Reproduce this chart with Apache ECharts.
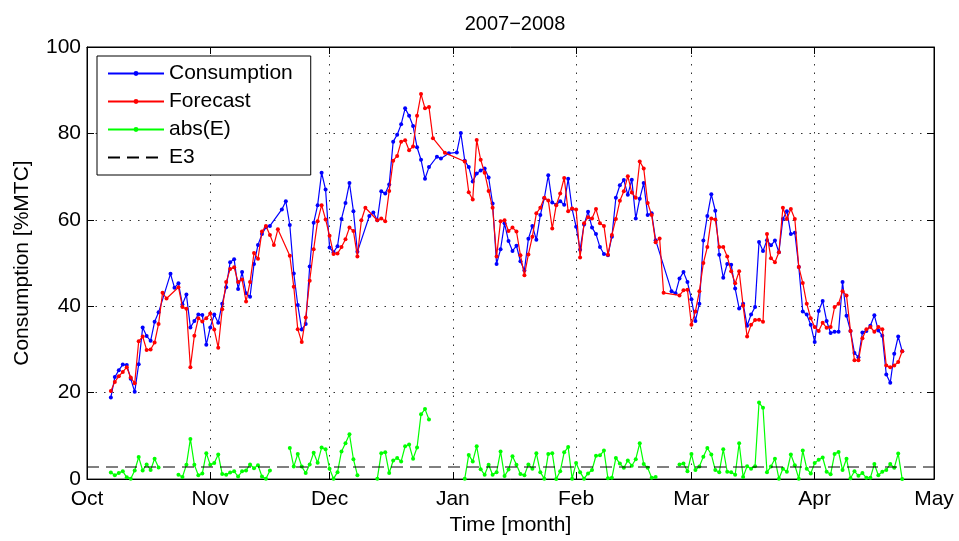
<!DOCTYPE html>
<html>
<head>
<meta charset="utf-8">
<script src="https://cdn.jsdelivr.net/npm/echarts@6/dist/echarts.min.js"></script>
<style>
html,body{margin:0;padding:0;background:#fff;}
#chart{width:959px;height:541px;}
</style>
</head>
<body>
<div id="chart"></div>
<script>
// x positions are days counted from 1 Oct 2007 (day 0)
const monthStarts = [0, 31, 61, 92, 123, 152, 183, 213];
const monthLabels = ['Oct', 'Nov', 'Dec', 'Jan', 'Feb', 'Mar', 'Apr', 'May'];
const firstDay = 6; // first sample: 7 Oct 2007
const consumption = [
  18.9, 23.6, 25.2, 26.5, 26.4, 23.2, 20.2, 26.6, 35.1, 33.1,
  32.0, 36.4, 38.6, null, null, 47.5, 44.3, 45.3, 40.4, 42.7,
  35.1, 36.6, 38.1, 38.0, 31.1, 35.1, 38.1, 36.2, 40.6, 44.4,
  50.2, 50.9, 44.0, 47.9, 43.0, 42.2, 49.8, 54.2, 56.7, 58.3,
  58.6, null, null, 62.4, 64.3, 58.8, 47.6, 40.3, 34.6, 35.9,
  49.2, 59.3, 63.4, 70.9, 67.0, 53.6, 52.5, 53.9, 60.2, 63.9,
  68.5, 62.0, 52.6, null, null, 60.9, 61.7, 59.9, 66.6, 66.1,
  68.2, 78.1, 79.7, 82.1, 85.8, 84.1, 81.7, 76.8, 73.9, 69.5,
  72.2, null, 74.6, 74.2, null, 75.4, null, 75.6, 80.1, 73.7,
  72.2, 68.9, 70.7, 71.4, 71.9, 69.8, 63.8, 49.8, 53.2, 59.2,
  55.1, 52.8, 54.0, 50.4, 48.3, 55.6, 58.6, 55.4, 61.1, 65.0,
  70.3, 64.0, 63.5, 64.3, 63.5, 69.5, 62.5, 58.4, 53.1, 58.9,
  61.9, 58.2, 56.7, 53.7, 52.1, 51.8, 56.1, 65.1, 68.0, 69.2,
  65.8, 69.3, 60.3, 64.9, 68.5, 61.1, 61.5, 55.3, null, null,
  null, 43.5, 43.0, 46.4, 47.9, 45.6, 41.6, 36.6, 40.6, 55.2,
  60.9, 65.9, 62.1, 51.9, 46.6, 49.8, 49.6, 44.1, 39.5, 40.6,
  35.5, 38.1, 39.8, 54.9, 52.8, 55.3, 54.1, 55.2, 52.5, 60.2,
  62.0, 56.7, 57.0, 49.1, 38.8, 38.1, 35.7, 31.7, 38.9, 41.2,
  36.6, 33.8, 34.1, 34.1, 45.6, 37.8, 34.3, 29.2, 28.2, 33.9,
  34.3, 35.5, 37.9, 34.4, 33.2, 24.2, 22.3, 29.0, 33.0, 29.6
];
const forecast = [
  20.4, 22.5, 23.8, 24.8, 25.9, 23.5, 22.2, 31.9, 33.0, 29.9,
  30.0, 31.6, 35.9, 43.1, 41.8, null, null, 44.4, 39.8, 39.4,
  25.9, 33.2, 37.2, 36.5, 37.2, 38.3, 34.6, 30.4, 39.3, 45.6,
  48.6, 49.0, 45.6, 46.2, 41.1, 45.6, 52.3, 51.0, 57.3, 58.6,
  56.5, 54.2, 57.8, null, null, 51.7, 44.5, 34.7, 31.7, 37.4,
  45.9, 53.2, 59.7, 63.4, 60.1, 56.3, 52.1, 52.2, 53.7, 55.5,
  58.2, 57.4, 51.5, 59.9, 62.8, null, null, 59.9, 60.3, 59.7,
  66.7, 73.7, 74.8, 78.1, 78.4, 76.1, 77.0, 84.1, 89.1, 85.8,
  86.1, 78.9, null, null, 75.5, null, null, null, null, 73.5,
  66.4, 64.7, 78.5, 73.9, 70.9, 66.7, 62.8, 51.5, 59.7, 59.9,
  57.4, 58.2, 57.3, 51.8, 47.2, 52.0, 56.1, 61.5, 62.8, 65.1,
  64.5, 58.0, 63.4, 66.1, 69.7, 62.0, 62.6, 62.4, 51.3, 59.2,
  60.6, 60.3, 62.5, 59.2, 58.6, 51.9, 56.5, 60.2, 64.4, 66.6,
  70.1, 66.3, 65.1, 73.5, 71.9, 63.9, 61.1, 54.8, 55.7, 43.1,
  null, null, null, 42.5, 43.7, 43.8, 35.7, 38.8, 43.5, 50.0,
  53.7, 60.3, 60.1, 53.7, 53.7, 51.5, 48.1, 45.3, 48.1, 40.1,
  33.0, 35.7, 36.8, 36.9, 36.4, 56.7, 51.1, 50.2, 52.5, 62.8,
  60.2, 62.5, 60.2, 49.1, 45.4, 40.6, 37.2, 35.2, 34.3, 36.2,
  35.0, 35.2, 39.8, 40.6, 43.5, 42.5, 34.3, 27.5, 27.5, 32.6,
  34.7, 35.2, 34.1, 35.2, 34.7, 26.3, 25.9, 26.3, 27.1, 29.6
];
const absError = [
  1.5, 0.9, 1.4, 1.8, 0.4, 0.1, 2.0, 5.1, 2.0, 3.4,
  2.1, 4.7, 2.7, null, null, null, null, 1.0, 0.5, 3.3,
  9.3, 3.3, 0.9, 1.3, 6.0, 3.3, 3.7, 5.7, 1.2, 1.0,
  1.5, 1.8, 0.6, 1.8, 2.0, 3.4, 2.5, 3.2, 0.6, 0.1,
  2.0, null, null, null, null, 7.2, 2.9, 5.8, 2.9, 1.4,
  3.4, 6.1, 3.8, 7.3, 6.9, 2.4, 0.1, 1.6, 6.4, 8.3,
  10.4, 4.6, 0.9, null, null, null, null, 0.1, 6.0, 6.2,
  1.4, 4.3, 4.9, 4.1, 7.6, 8.0, 4.7, 7.3, 15.0, 16.2,
  13.8, null, null, null, null, null, null, null, null, 0.1,
  5.6, 4.1, 7.6, 2.3, 1.0, 3.3, 1.0, 1.6, 6.4, 0.7,
  2.2, 5.3, 3.3, 1.2, 0.9, 3.4, 2.4, 6.0, 1.6, 0.1,
  5.8, 6.0, 0.0, 1.8, 6.2, 7.4, 0.1, 3.7, 1.6, 0.1,
  1.3, 2.1, 5.4, 5.5, 6.6, 0.2, 0.3, 4.9, 3.6, 2.6,
  4.3, 3.1, 4.6, 8.3, 3.5, 2.6, 0.3, 0.5, null, null,
  null, null, null, 3.4, 3.6, 1.8, 5.8, 2.1, 2.9, 5.2,
  7.2, 5.7, 2.1, 1.6, 6.9, 1.7, 1.6, 1.0, 8.3, 0.5,
  3.0, 2.4, 3.0, 17.7, 16.5, 1.6, 2.9, 4.7, 0.1, 2.4,
  1.7, 5.7, 3.2, 0.1, 6.6, 2.4, 1.3, 3.7, 4.5, 5.0,
  1.7, 1.1, 5.8, 6.3, 2.1, 4.7, 0.2, 1.8, 0.8, 1.4,
  0.3, 0.3, 3.5, 0.9, 1.7, 2.1, 3.5, 2.6, 5.9, 0.0
];
const e3Level = 2.8;
const yTicks = [0, 20, 40, 60, 80, 100];

const FONT = 'Liberation Sans, Arial, Helvetica, sans-serif';

function pairs(arr, keepNulls) {
  const out = [];
  arr.forEach((v, i) => {
    if (v === null && !keepNulls) return;
    out.push([firstDay + i, v]);
  });
  return out;
}

const chart = echarts.init(document.getElementById('chart'), null, {renderer: 'canvas'});
const gridLine = {show: true, lineStyle: {color: '#333', width: 1, type: [1.5, 7]}};
const tickStyle = {color: '#000', width: 1};

const option = {
  animation: false,
  backgroundColor: '#fff',
  title: {
    text: '2007\u22122008',
    left: 510, top: 9, textAlign: 'center',
    textStyle: {fontFamily: FONT, fontSize: 20, fontWeight: 'normal', color: '#000'}
  },
  grid: {left: 87, right: 25, top: 47, bottom: 58, show: true, borderColor: '#000', borderWidth: 1, containLabel: false},
  legend: {
    left: 97, top: 56, orient: 'vertical',
    itemWidth: 56, itemHeight: 6, itemGap: 7,
    padding: [7, 18, 7, 10],
    backgroundColor: '#fff', borderColor: '#000', borderWidth: 1, borderRadius: 0,
    textStyle: {fontFamily: FONT, fontSize: 21, color: '#000', lineHeight: 21},
    data: ['Consumption', 'Forecast', 'abs(E)',
      {name: 'E3', itemStyle: {color: 'rgba(0,0,0,0)', borderWidth: 0, opacity: 0}}]
  },
  xAxis: [{
    type: 'value', min: monthStarts[0], max: monthStarts[monthStarts.length - 1], position: 'bottom',
    axisLine: {show: true, onZero: false, lineStyle: tickStyle},
    axisTick: {show: true, inside: true, length: 7, customValues: monthStarts, lineStyle: tickStyle},
    axisLabel: {customValues: monthStarts, margin: 10, fontFamily: FONT, fontSize: 21, color: '#000',
      formatter: v => monthLabels[monthStarts.indexOf(v)] || ''},
    splitLine: gridLine,
    name: 'Time [month]', nameLocation: 'middle', nameGap: 31,
    nameTextStyle: {fontFamily: FONT, fontSize: 21, color: '#000'}
  }, {
    type: 'value', min: monthStarts[0], max: monthStarts[monthStarts.length - 1], position: 'top',
    axisLine: {show: true, onZero: false, lineStyle: tickStyle},
    axisTick: {show: true, inside: true, length: 7, customValues: monthStarts, lineStyle: tickStyle},
    axisLabel: {show: false}, splitLine: {show: false}
  }],
  yAxis: [{
    type: 'value', min: yTicks[0], max: yTicks[yTicks.length - 1], interval: 20, position: 'left',
    axisLine: {show: true, onZero: false, lineStyle: tickStyle},
    axisTick: {show: true, inside: true, length: 7, lineStyle: tickStyle},
    axisLabel: {margin: 6, fontFamily: FONT, fontSize: 21, color: '#000'},
    splitLine: gridLine,
    name: 'Consumption [%MTC]', nameLocation: 'middle', nameGap: 54, nameRotate: 90,
    nameTextStyle: {fontFamily: FONT, fontSize: 21, color: '#000'}
  }, {
    type: 'value', min: yTicks[0], max: yTicks[yTicks.length - 1], interval: 20, position: 'right',
    axisLine: {show: true, onZero: false, lineStyle: tickStyle},
    axisTick: {show: true, inside: true, length: 7, lineStyle: tickStyle},
    axisLabel: {show: false}, splitLine: {show: false}
  }],
  series: [{
    name: 'Consumption', type: 'line', data: pairs(consumption, false),
    symbol: 'circle', symbolSize: 4, showSymbol: true,
    lineStyle: {color: '#0000ff', width: 1.2}, itemStyle: {color: '#0000ff'}, z: 2
  }, {
    name: 'Forecast', type: 'line', data: pairs(forecast, false),
    symbol: 'circle', symbolSize: 4, showSymbol: true,
    lineStyle: {color: '#ff0000', width: 1.2}, itemStyle: {color: '#ff0000'}, z: 3
  }, {
    name: 'abs(E)', type: 'line', data: pairs(absError, true), connectNulls: false,
    symbol: 'circle', symbolSize: 4, showSymbol: true,
    lineStyle: {color: '#00ff00', width: 1.2}, itemStyle: {color: '#00ff00'}, z: 4
  }, {
    name: 'E3', type: 'line',
    data: [[monthStarts[0], e3Level], [monthStarts[monthStarts.length - 1], e3Level]],
    symbol: 'none', showSymbol: false,
    lineStyle: {color: '#000', width: 1, type: [12, 7]}, itemStyle: {color: '#000'}, z: 5
  }]
};
chart.setOption(option);
</script>
</body>
</html>
